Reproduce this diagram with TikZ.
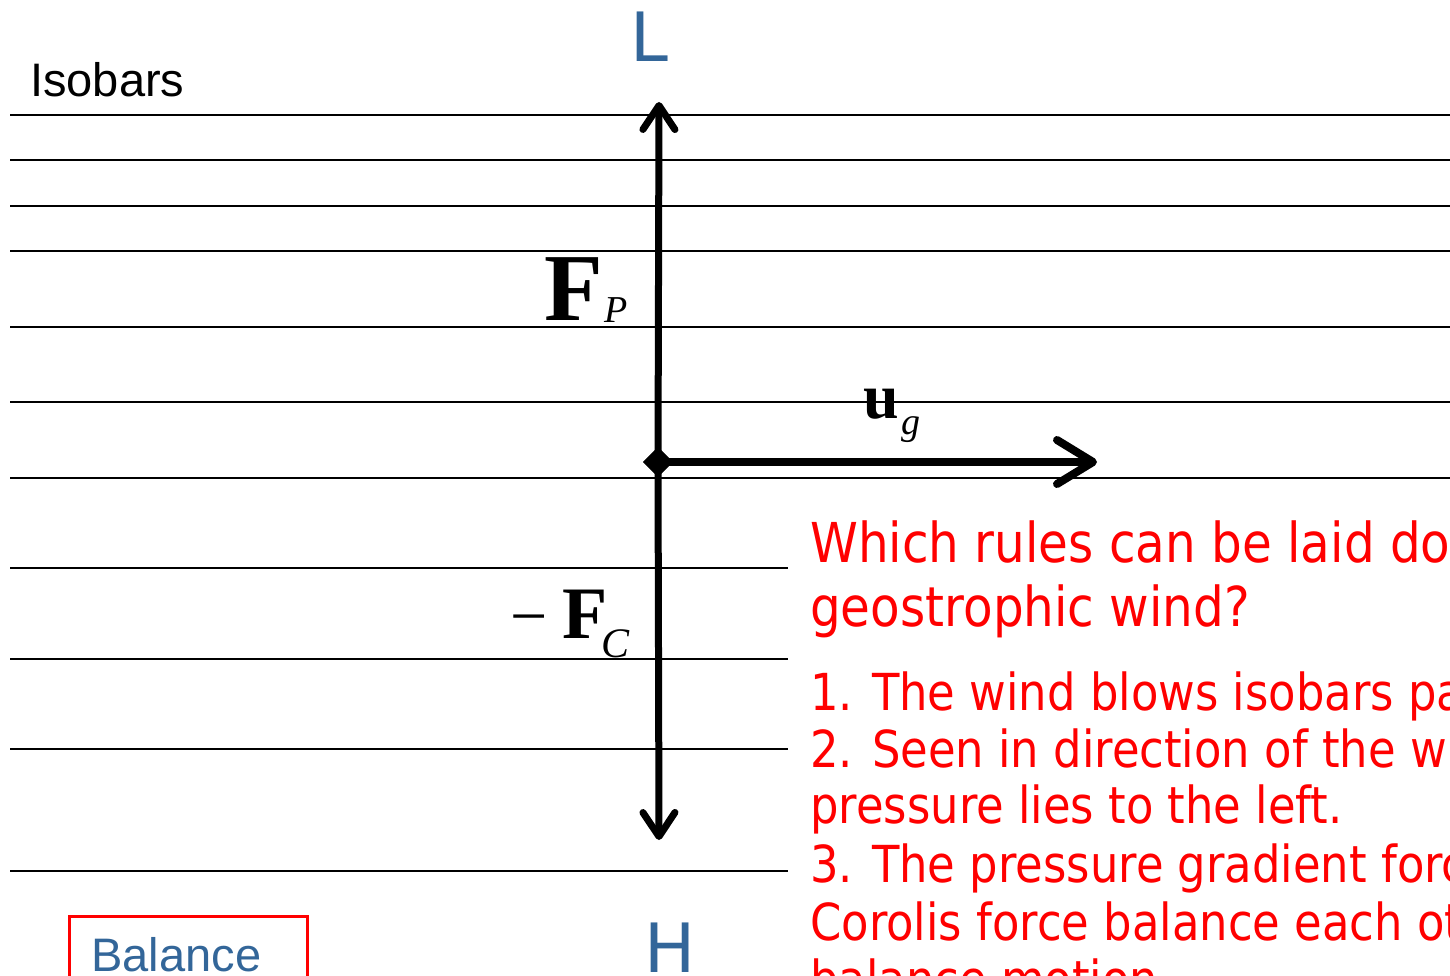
\documentclass[tikz,border=0pt]{standalone}
\usepackage{fontspec}
\setmainfont{Liberation Sans}
\newfontfamily\serifF{Liberation Serif}
\newfontfamily\redF[FakeStretch=0.88]{DejaVu Sans}
\newfontfamily\handF{DejaVu Sans}
\usetikzlibrary{arrows.meta,shapes.geometric}
\definecolor{lblue}{RGB}{51,102,153}
\begin{document}
\begin{tikzpicture}[x=1pt,y=-1pt,
  isobar/.style={line width=1.6pt},
  force/.style={line width=7pt,-{Straight Barb[length=24pt,width=32pt,round]}},
  wind/.style={line width=8pt,-{Straight Barb[length=36pt,width=44pt,round]}},
  lbl/.style={inner sep=0pt,anchor=base west},
  hand/.style={lbl,text=lblue,font=\handF\fontsize{68}{68}\selectfont},
  redq/.style={lbl,text=red,font=\redF\fontsize{55}{64}\selectfont},
  redl/.style={lbl,text=red,font=\redF\fontsize{51}{58}\selectfont}]
\useasboundingbox (0,0) rectangle (1450,976);
\clip (0,0) rectangle (1450,976);
\fill[white] (0,0) rectangle (1450,976);
% isobars
\foreach \y in {115,160,206,251,327,402,478}
  \draw[isobar] (10,\y) -- (1460,\y);
\foreach \y in {568,659,749}
  \draw[isobar] (10,\y) -- (788,\y);
\draw[line width=2.5pt] (10,871) -- (788,871);
% labels
\node[lbl,font=\fontsize{47}{47}\selectfont] (isob) at (30,97) {Isobars};
\node[hand] (L) at (630,62) {L};
\node[hand] (H) at (644,972) {H};
% forces
\node[diamond,fill=black,minimum size=30pt,inner sep=0pt] (o) at (658,462) {};
\coordinate (ptop) at (659,102);
\coordinate (pbot) at (659,840);
\coordinate (pright) at (1097,462);
\draw[force] (o.center) -- (ptop);
\draw[force] (o.center) -- (pbot);
\draw[wind] (o.center) -- (pright);
\node[diamond,fill=black,minimum size=30pt,inner sep=0pt] (o2) at (658,462) {};
\node[lbl,font=\serifF\bfseries\fontsize{96}{96}\selectfont] (FP) at (544,320) {F};
\node[lbl,font=\serifF\itshape\fontsize{38}{38}\selectfont] (FPs) at (604,322) {P};
\node[lbl,font=\serifF\fontsize{66}{66}\selectfont] (minus) at (510,638) {−};
\node[lbl,font=\serifF\bfseries\fontsize{74}{74}\selectfont] (FC) at (562,638) {F};
\node[lbl,font=\serifF\itshape\fontsize{42}{42}\selectfont] (FCs) at (601,657) {C};
\node[lbl,font=\serifF\bfseries\fontsize{64}{64}\selectfont] (u) at (863,418) {u};
\node[lbl,font=\serifF\itshape\fontsize{38}{38}\selectfont] (g) at (901,434) {g};
% question and rules
\node[redq] (q1) at (810,562) {Which rules can be laid down for the};
\node[redq] (q2) at (810,626) {geostrophic wind?};
\node[redl] (r1) at (810,710) {1. The wind blows isobars parallel.};
\node[redl] (r2) at (810,767) {2. Seen in direction of the wind, the low};
\node[redl] (r3) at (810,823) {pressure lies to the left.};
\node[redl] (r4) at (810,882) {3. The pressure gradient force and the};
\node[redl] (r5) at (810,940) {Corolis force balance each other};
\node[redl] (r6) at (810,997) {balance motion.};
% balance box
\node[draw=red,line width=3pt,anchor=north west,inner xsep=22pt,inner ysep=21pt,
  text width=194pt,align=left,text=lblue,font=\fontsize{47}{47}\selectfont] (bal) at (68,915) {Balance};
\end{tikzpicture}
\end{document}
